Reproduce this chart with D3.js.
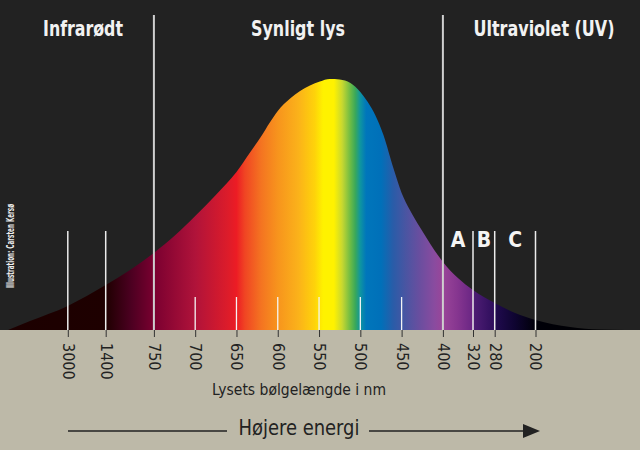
<!DOCTYPE html>
<html><head><meta charset="utf-8">
<script src="https://cdn.jsdelivr.net/npm/d3@7"></script>
<style>body{margin:0;background:#bdb9a8}svg{display:block}</style>
</head><body>
<script>
// ---- data ----
const tickWavelengths = [3000, 1400, 750, 700, 650, 600, 550, 500, 450, 400, 320, 280, 200];
const fullLines = [750, 400];
const tallLines = [3000, 1400, 320, 280, 200];
const shortLines = [700, 650, 600, 550, 500, 450];
const regionLabels = ["Infrarødt", "Synligt lys", "Ultraviolet (UV)"];
const uvLabels = ["A", "B", "C"];
const uvBands = [[400, 320], [320, 280], [280, 200]];
// intensity curve (relative, peak = 100)
const curveWavelengths = [5524, 4596, 3000, 1400, 1072, 750, 724, 700, 675, 650, 634, 621, 609, 600, 585, 573, 561, 549, 537, 525, 512, 500, 491, 482, 472, 460, 450, 440, 428, 416, 400, 360, 320, 280, 240, 200, 132, 73, 24];
const curveIntensity  = [0, 3.6, 9.6, 17.9, 23.9, 30.7, 37.8, 45.4, 53.8, 62.9, 70.5, 76.7, 83.0, 87.3, 92.2, 95.2, 97.4, 99.0, 100, 99.8, 98.4, 94.8, 90.8, 85.7, 77.7, 64.5, 54.6, 47.8, 41.0, 34.7, 27.1, 20.7, 15.9, 10.8, 6.8, 4.0, 1.2, 0.2, 0];
// spectrum colour stops
const stopWavelengths = [5500, 1400, 1070, 750, 700, 660, 650, 640, 620, 600, 575, 555, 545, 532, 522, 512, 506, 500, 493, 475, 460, 445, 428, 410, 400, 360, 322, 318, 282, 278, 240, 200, 30];
const stopColors = ["#1c0000", "#1e0000", "#4a0020", "#7a0030", "#b0133a", "#dd1c2a", "#ec1c24", "#f04423", "#f47421", "#f7941d", "#fbb21a", "#fed30a", "#fff200", "#fff200", "#c8d830", "#6cbb45", "#3aa85a", "#0f95a0", "#0076bb", "#0070b9", "#2a5ca8", "#4a55a2", "#6a4e9f", "#8a4b9f", "#9a4599", "#85358f", "#6a2684", "#4e1d74", "#2e0e5c", "#200a4e", "#0e0430", "#000008", "#000000"];
const axisTitle = "Lysets bølgelængde i nm";
const energyLabel = "Højere energi";
const credit = "Illustration: Carsten Kersø";

// ---- layout ----
const W = 640, H = 450, base = 330;
const svg = d3.select("body").append("svg").attr("width", W).attr("height", H);
const FONT = "'Liberation Sans Narrow','DejaVu Sans Condensed','Open Sans',sans-serif";

// piecewise (non-uniform) wavelength axis
const x = d3.scaleLinear()
  .domain([3000, 1400, 750, 400, 320, 280, 200])
  .range([67.8, 105.7, 153.9, 442.9, 473, 494.7, 535.5]);
const y = d3.scaleLinear().domain([0, 100]).range([base, 79]);

svg.append("rect").attr("width", W).attr("height", base).attr("fill", "#222222");
svg.append("rect").attr("y", base).attr("width", W).attr("height", H - base).attr("fill", "#bdb9a8");

// gradient
const x1 = x(stopWavelengths[0]), x2 = x(stopWavelengths[stopWavelengths.length - 1]);
const grad = svg.append("defs").append("linearGradient").attr("id", "spec")
  .attr("gradientUnits", "userSpaceOnUse").attr("x1", x1).attr("x2", x2).attr("y1", 0).attr("y2", 0);
stopWavelengths.forEach((wl, i) => {
  grad.append("stop").attr("offset", (x(wl) - x1) / (x2 - x1)).attr("stop-color", stopColors[i]);
});

const curveData = curveWavelengths.map((wl, i) => ({wl, v: curveIntensity[i]}));
const area = d3.area().x(d => x(d.wl)).y0(y(0)).y1(d => y(d.v)).curve(d3.curveMonotoneX);
svg.append("path").datum(curveData).attr("d", area).attr("fill", "url(#spec)");

// vertical lines
svg.selectAll(".full").data(fullLines).join("line")
  .attr("x1", d => x(d)).attr("x2", d => x(d)).attr("y1", 15).attr("y2", base)
  .attr("stroke", "#cfcfcf").attr("stroke-width", 2);
svg.selectAll(".tall").data(tallLines).join("line")
  .attr("x1", d => x(d)).attr("x2", d => x(d)).attr("y1", 231).attr("y2", base)
  .attr("stroke", "#ececec").attr("stroke-width", 1.5);
svg.selectAll(".short").data(shortLines).join("line")
  .attr("x1", d => x(d)).attr("x2", d => x(d)).attr("y1", 297).attr("y2", base)
  .attr("stroke", "#f4f4f4").attr("stroke-width", 1.3);

// region titles
const titleX = [83, 298, 544], titleW = [80, 94, 141];
svg.selectAll(".title").data(regionLabels).join("text")
  .attr("x", (d, i) => titleX[i]).attr("y", 36).attr("text-anchor", "middle")
  .attr("font-family", FONT).attr("font-size", 21).attr("font-weight", 600)
  .attr("fill", "#f2f2f2")
  .attr("textLength", (d, i) => titleW[i]).attr("lengthAdjust", "spacingAndGlyphs")
  .text(d => d);

// UV sub-bands
svg.selectAll(".uv").data(uvLabels).join("text")
  .attr("x", (d, i) => (x(uvBands[i][0]) + x(uvBands[i][1])) / 2).attr("y", 247)
  .attr("text-anchor", "middle").attr("font-family", FONT).attr("font-size", 21).attr("font-weight", 600)
  .attr("fill", "#f4f4f4").text(d => d);

// axis
const axis = d3.axisBottom(x).tickValues(tickWavelengths).tickSize(7).tickFormat(d => d);
const ag = svg.append("g").attr("transform", `translate(0,${base})`).call(axis);
ag.select(".domain").remove();
ag.selectAll(".tick line").attr("stroke", "#333").attr("stroke-width", 1);
ag.selectAll(".tick text")
  .attr("transform", "rotate(90)").attr("x", 13).attr("y", 0).attr("dy", "0.35em")
  .attr("text-anchor", "start").attr("font-family", FONT).attr("font-size", 16)
  .attr("fill", "#222");

svg.append("text").attr("x", 299).attr("y", 395).attr("text-anchor", "middle")
  .attr("font-family", FONT).attr("font-size", 16).attr("fill", "#222")
  .attr("textLength", 174).attr("lengthAdjust", "spacingAndGlyphs").text(axisTitle);

// energy arrow
svg.append("text").attr("x", 299).attr("y", 435).attr("text-anchor", "middle")
  .attr("font-family", FONT).attr("font-size", 22).attr("fill", "#222")
  .attr("textLength", 121).attr("lengthAdjust", "spacingAndGlyphs").text(energyLabel);
svg.append("line").attr("x1", 68).attr("x2", 227).attr("y1", 431).attr("y2", 431)
  .attr("stroke", "#222").attr("stroke-width", 1.4);
svg.append("line").attr("x1", 369).attr("x2", 526).attr("y1", 431).attr("y2", 431)
  .attr("stroke", "#222").attr("stroke-width", 1.4);
svg.append("path").attr("d", "M523,424 L540,431 L523,438 Z").attr("fill", "#222");

// credit
svg.append("text").attr("transform", "translate(13.5,288) rotate(-90)")
  .attr("font-family", FONT).attr("font-size", 10).attr("font-weight", 700)
  .attr("fill", "#ececec").attr("textLength", 84).attr("lengthAdjust", "spacingAndGlyphs")
  .text(credit);
</script>
</body></html>
